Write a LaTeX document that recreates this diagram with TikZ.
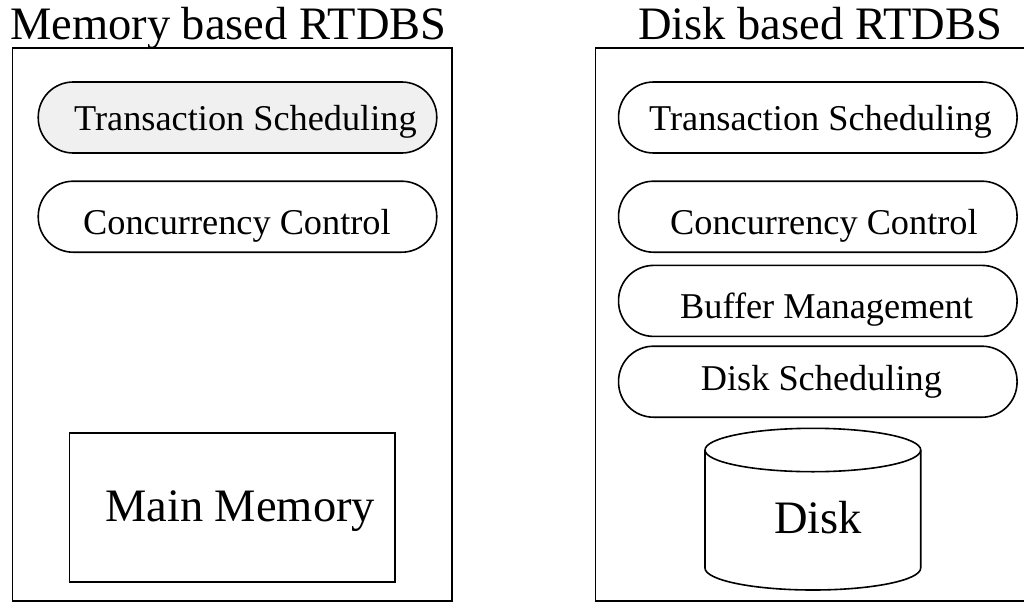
\documentclass[tikz,border=0pt]{standalone}
\usepackage{fontspec}
\setmainfont{Liberation Serif}
\definecolor{pillgray}{gray}{0.94}
\tikzset{
  frame/.style={draw, line width=1.6pt, inner sep=0pt},
  pill/.style={draw, line width=1.6pt, rounded corners=35pt, minimum width=398.5pt, minimum height=71pt, inner sep=0pt},
  bigtext/.style={inner sep=0pt, anchor=base west, font=\fontsize{46.5}{50}\selectfont},
  pilltext/.style={inner sep=0pt, anchor=base west, font=\fontsize{36.3}{40}\selectfont}
}
\begin{document}
\begin{tikzpicture}[x=1pt,y=-1pt]
\useasboundingbox (0,0) rectangle (1024,602);
\clip (0,0) rectangle (1024,602);
\fill[white] (0,0) rectangle (1024,602);

% memory based system
\node[frame, minimum width=439.4pt, minimum height=552.7pt] (memsys) at (232,324.65) {};
\node[bigtext] (memtitle) at (10,40) {Memory based RTDBS};
\node[pill, fill=pillgray] (mts) at (237.5,117.5) {};
\node[pilltext] (mtstext) at (74,130) {Transaction Scheduling};
\node[pill] (mcc) at (237.5,216.7) {};
\node[pilltext] (mcctext) at (83,234) {Concurrency Control};
\node[frame, minimum width=325.7pt, minimum height=149pt] (mainmem) at (232.15,507.2) {};
\node[bigtext] (mainmemtext) at (105,521.7) {Main Memory};

% disk based system
\node[frame, minimum width=440pt, minimum height=552.7pt] (disksys) at (815.3,324.65) {};
\node[bigtext] (disktitle) at (638,40) {Disk based RTDBS};
\node[pill] (dts) at (817.8,117.5) {};
\node[pilltext] (dtstext) at (649,130) {Transaction Scheduling};
\node[pill] (dcc) at (817.8,216.7) {};
\node[pilltext] (dcctext) at (670,234) {Concurrency Control};
\node[pill] (dbm) at (817.8,300.9) {};
\node[pilltext] (dbmtext) at (680,318) {Buffer Management};
\node[pill] (dds) at (817.8,381.7) {};
\node[pilltext] (ddstext) at (700.7,390) {Disk Scheduling};

% disk drum: side walls with the lower rim, then the top face
\draw[line width=1.6pt] (705,450) -- (705,568)
  arc[start angle=180, end angle=360, x radius=107.85pt, y radius=22pt]
  -- (920.7,450);
\draw[line width=1.6pt] (812.85,450) ellipse [x radius=107.85pt, y radius=21.7pt];
\node[bigtext] (disktext) at (774,533) {Disk};
\end{tikzpicture}
\end{document}
